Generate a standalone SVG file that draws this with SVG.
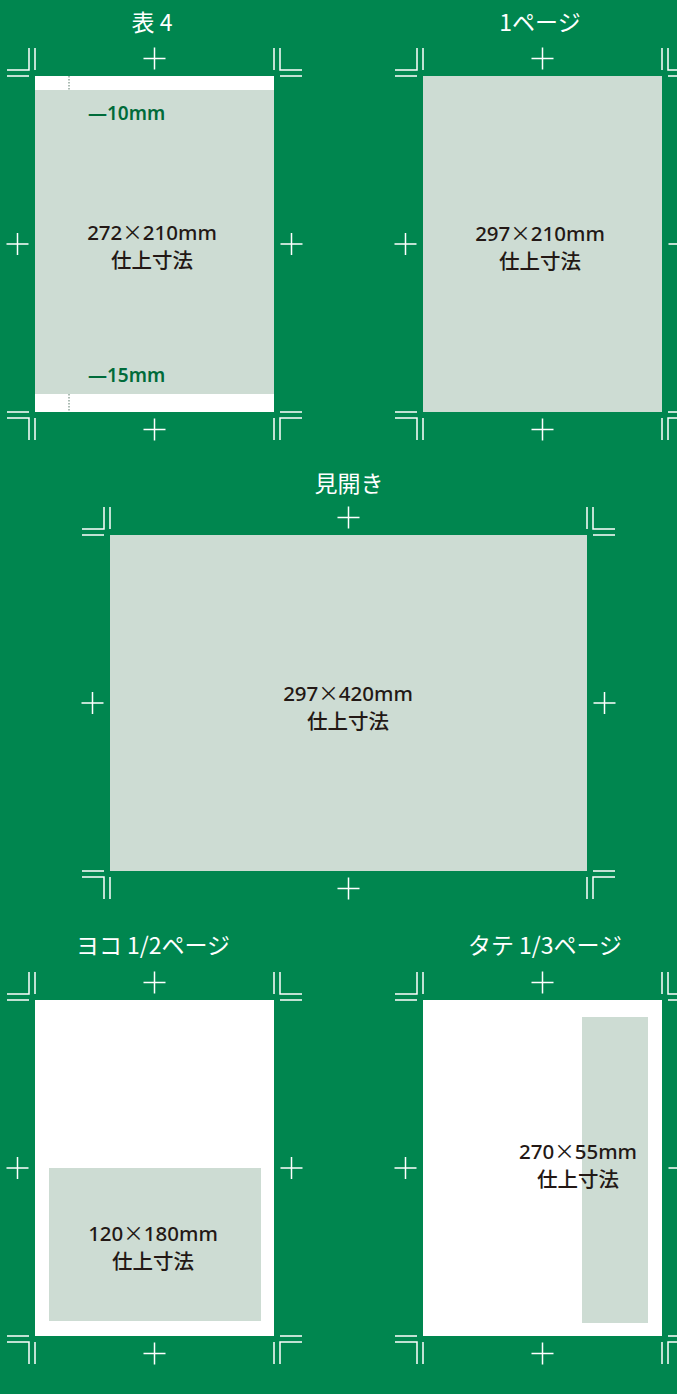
<svg xmlns="http://www.w3.org/2000/svg" width="677" height="1394" viewBox="0 0 677 1394">
<style>
.mk{fill:none;stroke:#fff;stroke-width:1.5}
.sheet{fill:#fff}
.trim{fill:#cddcd3}
.t{font-family:"Noto Sans","Noto Sans CJK JP",sans-serif;font-size:20.5px;font-weight:500;fill:#231815;text-anchor:middle}
.x{font-family:"Noto Sans CJK JP",sans-serif;font-weight:400}
.j{font-family:"Noto Sans CJK JP",sans-serif;font-size:20.5px;font-weight:500;fill:#231815;text-anchor:middle}
.h{font-family:"Noto Sans CJK JP",sans-serif;font-size:23px;font-weight:400;fill:#fff;text-anchor:middle}
.g{font-family:"Noto Sans","Noto Sans CJK JP",sans-serif;font-size:19px;font-weight:600;fill:#006b3a}
.dot{stroke:#5a7a6a;stroke-width:1;stroke-dasharray:1.5 1.5}
</style>
<defs>
<path id="m1" class="mk" d="M-28,-6H-6V-28M0,-28V-6M-28,0H-6 M267,-6H245V-28M239,-28V-6M245,0H267 M-28,342H-6V364M0,342V364M-28,336H-6 M267,342H245V364M239,342V364M245,336H267 M108.5,-17.5H130.5M119.5,-28.5V-6.5 M108.5,353.5H130.5M119.5,342.5V364.5 M-28.5,168H-6.5M-17.5,157V179 M245.5,168H267.5M256.5,157V179"/>
<path id="m3" class="mk" d="M-28,-6H-6V-28M0,-28V-6M-28,0H-6 M505,-6H483V-28M477,-28V-6M483,0H505 M-28,342H-6V364M0,342V364M-28,336H-6 M505,342H483V364M477,342V364M483,336H505 M227.5,-17.5H249.5M238.5,-28.5V-6.5 M227.5,353.5H249.5M238.5,342.5V364.5 M-28.5,168H-6.5M-17.5,157V179 M483.5,168H505.5M494.5,157V179"/>
</defs>
<rect width="677" height="1394" fill="#00864f"/>

<g id="panel-hyo4">
<text class="h" x="152" y="31">表 4</text>
<g transform="translate(35,76)">
<rect class="sheet" width="239" height="336"/>
<rect class="trim" y="14" width="239" height="304"/>
<path class="dot" d="M34,0V14M34,318V336"/>
<use href="#m1"/>
</g>
<text class="g" x="88" y="120">—10mm</text>
<text class="g" x="88" y="382">—15mm</text>
<text class="t" x="152" y="240">272<tspan class="x">×</tspan>210mm</text>
<text class="j" x="152" y="268">仕上寸法</text>
</g>

<g id="panel-1page">
<text class="h" x="540" y="31">1ページ</text>
<g transform="translate(423,76)">
<rect class="trim" width="239" height="336"/>
<use href="#m1"/>
</g>
<text class="t" x="540" y="241">297<tspan class="x">×</tspan>210mm</text>
<text class="j" x="540" y="269">仕上寸法</text>
</g>

<g id="panel-mihiraki">
<text class="h" x="349" y="492">見開き</text>
<g transform="translate(110,535)">
<rect class="trim" width="477" height="336"/>
<use href="#m3"/>
</g>
<text class="t" x="348" y="701">297<tspan class="x">×</tspan>420mm</text>
<text class="j" x="348" y="729">仕上寸法</text>
</g>

<g id="panel-yoko">
<text class="h" x="153" y="954">ヨコ 1/2ページ</text>
<g transform="translate(35,1000)">
<rect class="sheet" width="239" height="336"/>
<rect class="trim" x="14" y="168" width="212" height="153"/>
<use href="#m1"/>
</g>
<text class="t" x="153" y="1241">120<tspan class="x">×</tspan>180mm</text>
<text class="j" x="153" y="1269">仕上寸法</text>
</g>

<g id="panel-tate">
<text class="h" x="545" y="954">タテ 1/3ページ</text>
<g transform="translate(423,1000)">
<rect class="sheet" width="239" height="336"/>
<rect class="trim" x="159" y="17" width="66" height="306"/>
<use href="#m1"/>
</g>
<text class="t" x="578" y="1159">270<tspan class="x">×</tspan>55mm</text>
<text class="j" x="578" y="1187">仕上寸法</text>
</g>
</svg>
